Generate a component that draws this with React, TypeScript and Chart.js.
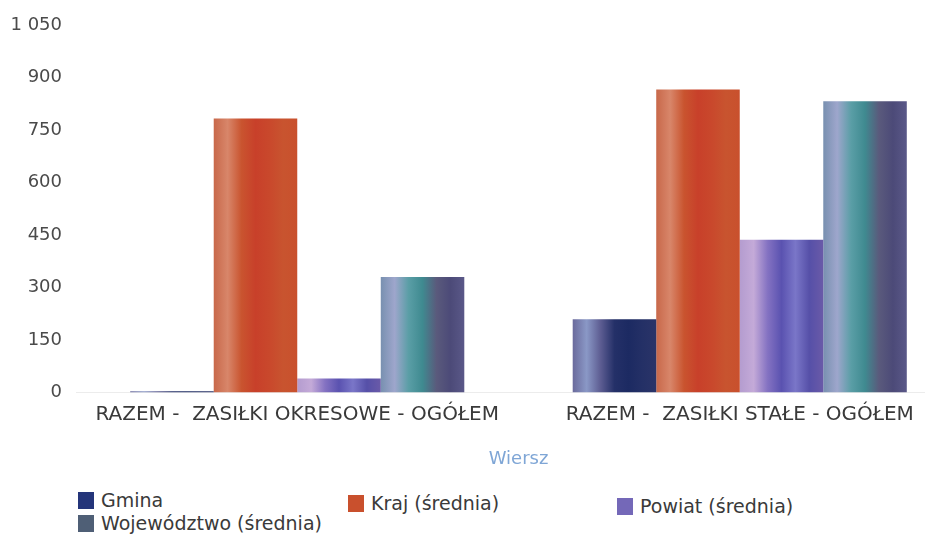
import React, { useEffect, useRef } from "react";
import { Chart, registerables } from "chart.js";

Chart.register(...registerables);

const categories = ["RAZEM -  ZASIŁKI OKRESOWE - OGÓŁEM", "RAZEM -  ZASIŁKI STAŁE - OGÓŁEM"];
const seriesNames = ["Gmina", "Kraj (średnia)", "Powiat (średnia)", "Województwo (średnia)"];
const gmina = [3, 209];
const kraj = [783, 866];
const powiat = [40, 436];
const wojewodztwo = [330, 832];
const yTicks = [0, 150, 300, 450, 600, 750, 900, 1050];
const axisTitle = "Wiersz";

const FONT = "'DejaVu Sans', sans-serif";

const baseColors = ["#24357a", "#c9502d", "#7468b8", "#4f5f76"];
const stripeStops: string[][] = [
  ["#6a6a9c", "#8a98c6", "#5d5d92", "#243068", "#1c2a62", "#243066", "#2a3468"],
  ["#c8684a", "#d8866a", "#c9542f", "#c8402a", "#c9482c", "#c8542f", "#c9502d"],
  ["#b49ccf", "#c4aad8", "#8472c2", "#5a52b0", "#7a76c8", "#5650a8", "#6a5aa8"],
  ["#7890b0", "#9ea6cc", "#5a9ea6", "#3f8a90", "#5a5a7c", "#4c4a78", "#5a5888"],
];

const makeBg = (idx: number) => (ctx: any) => {
  const el = ctx.element;
  const chart = ctx.chart;
  if (!el || typeof el.x !== "number" || !isFinite(el.x) || !el.width) return baseColors[idx];
  const left = el.x - el.width / 2;
  const g = chart.ctx.createLinearGradient(left, 0, left + el.width, 0);
  const stops = stripeStops[idx];
  stops.forEach((c, i) => g.addColorStop(i / (stops.length - 1), c));
  return g;
};

const fmt = (v: number) => String(v).replace(/\B(?=(\d{3})+(?!\d))/g, " ");

const legendItems = [
  { name: seriesNames[0], color: baseColors[0], left: 78, cy: 500 },
  { name: seriesNames[1], color: baseColors[1], left: 348, cy: 503 },
  { name: seriesNames[2], color: baseColors[2], left: 617, cy: 506 },
  { name: seriesNames[3], color: baseColors[3], left: 78, cy: 523 },
];

export default function App() {
  const ref = useRef<HTMLCanvasElement | null>(null);

  useEffect(() => {
    document.body.style.margin = "0";
    const canvas = ref.current;
    if (!canvas) return;
    const values = [gmina, kraj, powiat, wojewodztwo];
    const chart = new Chart(canvas, {
      type: "bar",
      data: {
        labels: categories,
        datasets: values.map((d, i) => ({
          label: seriesNames[i],
          data: d,
          backgroundColor: makeBg(i),
          borderWidth: 0,
          barPercentage: 1,
          categoryPercentage: 0.755,
        })),
      },
      options: {
        animation: false,
        responsive: true,
        maintainAspectRatio: false,
        layout: { padding: { top: 25, left: 0, right: 0, bottom: 0 } },
        plugins: {
          legend: { display: false },
          tooltip: { enabled: false },
          title: { display: false },
        },
        scales: {
          x: {
            grid: { display: false, drawTicks: false },
            border: { display: true, color: "#ececec" },
            ticks: {
              font: { family: FONT, size: 20 },
              color: "#3a3a3a",
              padding: 10,
              maxRotation: 0,
              autoSkip: false,
            },
            title: {
              display: true,
              text: axisTitle,
              color: "#7fa6d6",
              font: { family: FONT, size: 18 },
              padding: { top: 12, bottom: 0 },
            },
          },
          y: {
            min: 0,
            max: 1050,
            afterFit: (scale: any) => {
              scale.width = 76;
            },
            afterBuildTicks: (scale: any) => {
              scale.ticks = yTicks.map((v) => ({ value: v }));
            },
            grid: { display: false, drawTicks: false },
            border: { display: false },
            ticks: {
              stepSize: 150,
              font: { family: FONT, size: 18 },
              color: "#4a4a4a",
              padding: 14,
              callback: (v: any) => fmt(Number(v)),
            },
          },
        },
      },
    });
    chart.update();
    return () => chart.destroy();
  }, []);

  return (
    <div
      style={{
        position: "relative",
        width: 925,
        height: 535,
        overflow: "hidden",
        background: "#fff",
        fontFamily: FONT,
      }}
    >
      <div style={{ position: "absolute", left: 0, top: 0, width: 961, height: 470 }}>
        <canvas ref={ref} />
      </div>
      {legendItems.map((it) => (
        <div
          key={it.name}
          style={{
            position: "absolute",
            left: it.left,
            top: it.cy - 11,
            display: "flex",
            alignItems: "center",
            height: 22,
            whiteSpace: "nowrap",
          }}
        >
          <span style={{ display: "inline-block", width: 16, height: 17, background: it.color, marginRight: 7 }} />
          <span style={{ fontSize: 19, color: "#3a3a3a", lineHeight: "22px" }}>{it.name}</span>
        </div>
      ))}
    </div>
  );
}
